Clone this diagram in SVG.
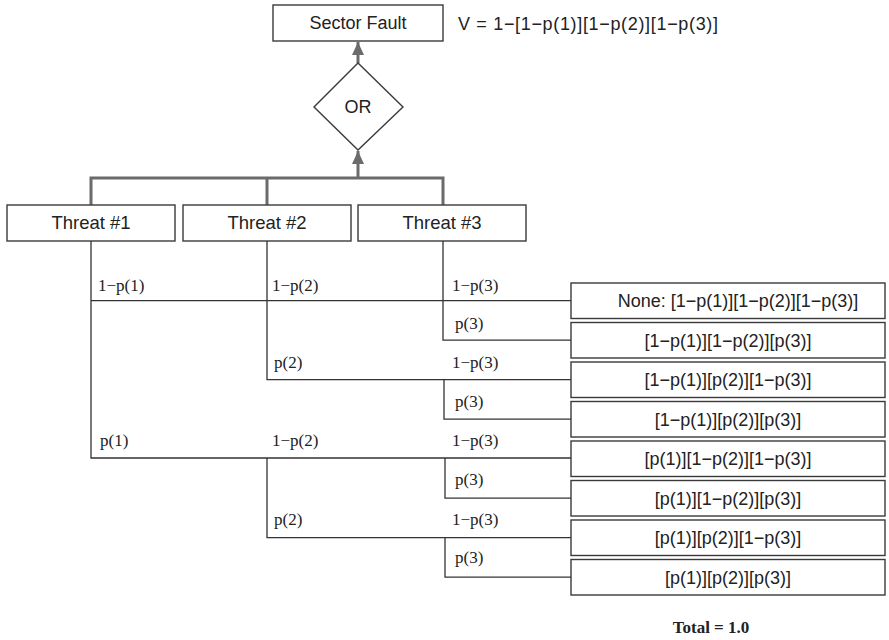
<svg xmlns="http://www.w3.org/2000/svg" width="889" height="640" viewBox="0 0 889 640">
<style>
.box{fill:#fff;stroke:#3a3a3a;stroke-width:1.4}
.sans{font-family:"Liberation Sans",Arial,sans-serif;fill:#222}
.serif{font-family:"Liberation Serif","Times New Roman",serif;fill:#222;font-size:17px}
.thick{fill:none;stroke:#6b6b6b;stroke-width:3}
.tree{fill:none;stroke:#333;stroke-width:1.3}
.out{font-size:18px;text-anchor:middle}
</style>
<defs>
<marker id="ah" markerUnits="userSpaceOnUse" markerWidth="14" markerHeight="14" viewBox="0 0 14 14" refX="13" refY="7" orient="auto">
<path d="M0,1 L13,7 L0,13 Z" fill="#6b6b6b"/>
</marker>
</defs>
<rect width="889" height="640" fill="#fff"/>
<g id="connectors">
<line class="thick" x1="358" y1="63" x2="358" y2="42" marker-end="url(#ah)"/>
<line class="thick" x1="358" y1="178" x2="358" y2="151" marker-end="url(#ah)"/>
<polyline class="thick" points="91,205 91,178 443,178 443,205"/>
<line class="thick" x1="267" y1="178" x2="267" y2="205"/>
<polyline class="tree" points="91,241 91,458 571,458"/>
<line class="tree" x1="91" y1="300.7" x2="571" y2="300.7"/>
<polyline class="tree" points="267,241 267,379.7 571,379.7"/>
<polyline class="tree" points="443,241 443,340.2 571,340.2"/>
<polyline class="tree" points="444,379.7 444,419.2 571,419.2"/>
<polyline class="tree" points="267,458 267,537.7 571,537.7"/>
<polyline class="tree" points="445,458 445,498.2 571,498.2"/>
<polyline class="tree" points="445,537.7 445,577.2 571,577.2"/>
</g>
<g id="sector-fault">
<rect class="box" x="273" y="5" width="170" height="36"/>
<text class="sans" x="358" y="29" font-size="18" text-anchor="middle">Sector Fault</text>
</g>
<g id="formula">
<text class="sans" x="458" y="30" font-size="18" textLength="260" lengthAdjust="spacing">V = 1−[1−p(1)][1−p(2)][1−p(3)]</text>
</g>
<g id="or-gate">
<polygon class="box" points="358,63 403,107 358,150 314,107"/>
<text class="sans" x="358" y="113" font-size="18" text-anchor="middle">OR</text>
</g>
<g id="threat1">
<rect class="box" x="7" y="205" width="168" height="36"/>
<text class="sans" x="91" y="229" font-size="18.5" text-anchor="middle">Threat #1</text>
</g>
<g id="threat2">
<rect class="box" x="183" y="205" width="168" height="36"/>
<text class="sans" x="267" y="229" font-size="18.5" text-anchor="middle">Threat #2</text>
</g>
<g id="threat3">
<rect class="box" x="358" y="205" width="168" height="36"/>
<text class="sans" x="442" y="229" font-size="18.5" text-anchor="middle">Threat #3</text>
</g>
<g id="branch-labels">
<text class="serif" x="98" y="291">1−p(1)</text>
<text class="serif" x="272" y="291">1−p(2)</text>
<text class="serif" x="452" y="291">1−p(3)</text>
<text class="serif" x="455" y="329">p(3)</text>
<text class="serif" x="274" y="368">p(2)</text>
<text class="serif" x="452" y="368">1−p(3)</text>
<text class="serif" x="455" y="407">p(3)</text>
<text class="serif" x="100" y="446">p(1)</text>
<text class="serif" x="272" y="446">1−p(2)</text>
<text class="serif" x="452" y="446">1−p(3)</text>
<text class="serif" x="455" y="485">p(3)</text>
<text class="serif" x="274" y="525">p(2)</text>
<text class="serif" x="452" y="525">1−p(3)</text>
<text class="serif" x="455" y="563">p(3)</text>
</g>
<g id="outcome1">
<rect class="box" x="571" y="283" width="314" height="35.5"/>
<text class="sans out" x="738" y="307">None: [1−p(1)][1−p(2)][1−p(3)]</text>
</g>
<g id="outcome2">
<rect class="box" x="571" y="322.5" width="314" height="35.5"/>
<text class="sans out" x="728" y="346.5">[1−p(1)][1−p(2)][p(3)]</text>
</g>
<g id="outcome3">
<rect class="box" x="571" y="362" width="314" height="35.5"/>
<text class="sans out" x="728" y="386">[1−p(1)][p(2)][1−p(3)]</text>
</g>
<g id="outcome4">
<rect class="box" x="571" y="401.5" width="314" height="35.5"/>
<text class="sans out" x="728" y="425.5">[1−p(1)][p(2)][p(3)]</text>
</g>
<g id="outcome5">
<rect class="box" x="571" y="441" width="314" height="35.5"/>
<text class="sans out" x="728" y="465">[p(1)][1−p(2)][1−p(3)]</text>
</g>
<g id="outcome6">
<rect class="box" x="571" y="480.5" width="314" height="35.5"/>
<text class="sans out" x="728" y="504.5">[p(1)][1−p(2)][p(3)]</text>
</g>
<g id="outcome7">
<rect class="box" x="571" y="520" width="314" height="35.5"/>
<text class="sans out" x="728" y="544">[p(1)][p(2)][1−p(3)]</text>
</g>
<g id="outcome8">
<rect class="box" x="571" y="559.5" width="314" height="35.5"/>
<text class="sans out" x="728" y="583.5">[p(1)][p(2)][p(3)]</text>
</g>
<g id="total">
<text class="serif" x="711" y="633" font-size="19" font-weight="bold" text-anchor="middle">Total = 1.0</text>
</g>
</svg>
